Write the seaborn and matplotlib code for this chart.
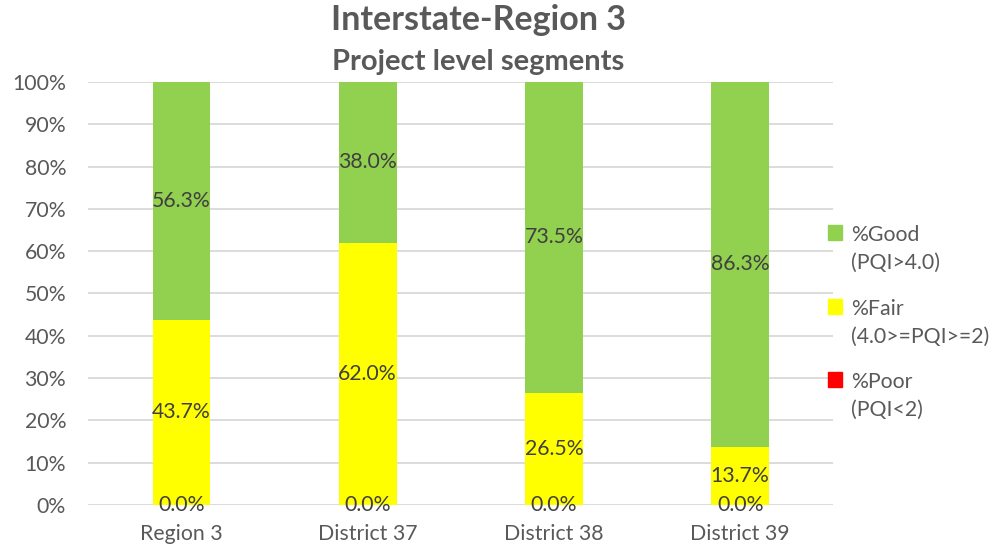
import seaborn as sns
import matplotlib.pyplot as plt
import matplotlib.patches as mpatches
from matplotlib.legend_handler import HandlerPatch
import pandas as pd

sns.set_style("white")
plt.rcParams['font.family'] = ['Lato', 'DejaVu Sans']

# Data (percent)
categories = ['Region 3', 'District 37', 'District 38', 'District 39']
pct_good = [56.3, 38.0, 73.5, 86.3]
pct_fair = [43.7, 62.0, 26.5, 13.7]
pct_poor = [0.0, 0.0, 0.0, 0.0]
legend_labels = ['%Good\n(PQI>4.0)', '%Fair\n(4.0>=PQI>=2)', '%Poor\n(PQI<2)']

df = pd.DataFrame({'segment': categories, 'good': pct_good,
                   'fair': pct_fair, 'poor': pct_poor})
df['poor_top'] = df['poor']
df['fair_top'] = df['poor'] + df['fair']
df['good_top'] = df['fair_top'] + df['good']

green, yellow, red = '#92D050', '#FFFF00', '#FF0000'
grey_txt = '#595959'
lbl_txt = '#404040'
fs = 15.3

fig = plt.figure(figsize=(9.92, 5.5), dpi=100)
ax = fig.add_axes([0.089, 0.082, 0.751, 0.769])

# stacked bars via cumulative overlays
for col, c in [('good_top', green), ('fair_top', yellow), ('poor_top', red)]:
    sns.barplot(data=df, x='segment', y=col, color=c, width=0.31,
                saturation=1, linewidth=0, edgecolor='none', ax=ax)

# data labels centred in each segment
for i, row in df.iterrows():
    ax.text(i, row['poor'] / 2, f"{row['poor']:.1f}%", ha='center', va='center',
            fontsize=fs, color=lbl_txt)
    ax.text(i, row['poor_top'] + row['fair'] / 2, f"{row['fair']:.1f}%",
            ha='center', va='center', fontsize=fs, color=lbl_txt)
    ax.text(i, row['fair_top'] + row['good'] / 2, f"{row['good']:.1f}%",
            ha='center', va='center', fontsize=fs, color=lbl_txt)

ax.set_ylim(0, 100)
ax.set_xlim(-0.5, 3.5)
ax.set_yticks(range(0, 101, 10))
ax.set_yticklabels([f'{v}%' for v in range(0, 101, 10)])
ax.yaxis.grid(True, color='#D9D9D9', linewidth=1.3)
ax.set_axisbelow(True)
for s in ax.spines.values():
    s.set_visible(False)
ax.tick_params(axis='both', length=0, labelsize=fs, colors=grey_txt)
ax.tick_params(axis='x', pad=14)
ax.tick_params(axis='y', pad=16)
ax.set_xlabel('')
ax.set_ylabel('')


# legend square sits next to the first line of the two-line label
def top_square(legend, orig_handle, xdescent, ydescent, width, height, fontsize):
    s = 0.7 * fontsize
    return mpatches.Rectangle((-xdescent, -ydescent + height - s + 0.3 * fontsize), s, s)


handles = [mpatches.Patch(color=c) for c in (green, yellow, red)]
leg = fig.legend(handles, legend_labels, loc='center left',
                 bbox_to_anchor=(0.815, 0.413), frameon=False, fontsize=15.3,
                 labelcolor=grey_txt, handlelength=0.75, handleheight=2.4,
                 handletextpad=0.35, labelspacing=1.2,
                 handler_map={mpatches.Patch: HandlerPatch(patch_func=top_square)})
for t in leg.get_texts():
    t.set_linespacing(1.5)

fig.text(0.482, 0.963, 'Interstate-Region 3', ha='center', va='center',
         fontsize=24.5, fontweight='bold', color=grey_txt)
fig.text(0.482, 0.888, 'Project level segments', ha='center', va='center',
         fontsize=21, fontweight='bold', color=grey_txt)

fig.savefig('out.png', dpi=100)
